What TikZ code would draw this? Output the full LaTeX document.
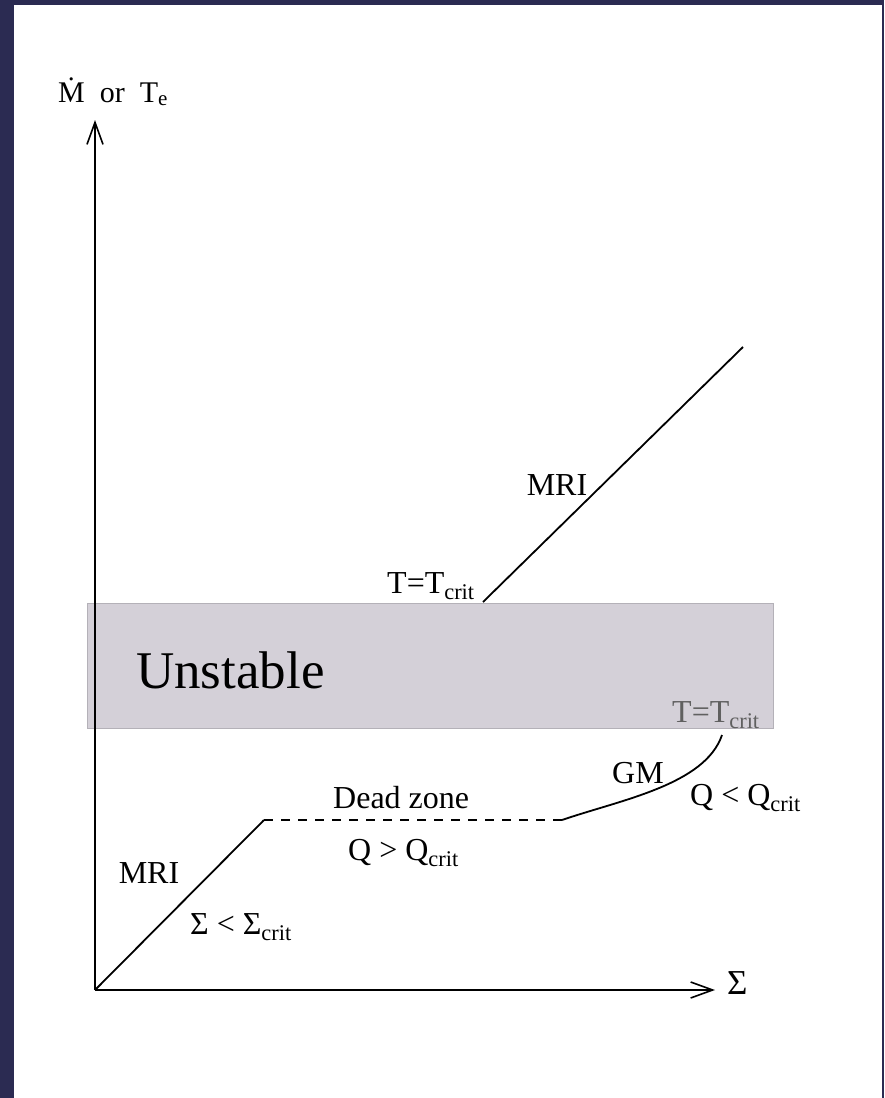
\documentclass[tikz,border=0pt]{standalone}
\usepackage{fontspec}
\setmainfont{Liberation Serif}
\usetikzlibrary{arrows.meta, positioning}
\definecolor{slidebg}{HTML}{2B2B52}
\definecolor{bandgrey}{HTML}{D4D0D8}
\definecolor{critgrey}{HTML}{606060}

\begin{document}
\begin{tikzpicture}[x=1pt, y=-1pt,
    track/.style={line width=1.8pt},
    axis/.style={line width=2pt, -{Straight Barb[length=22pt, width=16pt, line width=1.6pt]}},
    lbl/.style={font=\fontsize{32}{38}\selectfont, inner sep=0pt},
    band/.style={fill=bandgrey, draw=bandgrey!85!black, line width=0.6pt}
]
    % slide background
    \useasboundingbox (0,0) rectangle (884,1098);
    \fill[slidebg] (0,0) rectangle (884,1098);
    \fill[white] (14,5) rectangle (882,1098);

    % unstable band
    \node[band, minimum width=686pt, minimum height=125pt, inner sep=0pt, anchor=north west] (band) at (87,603) {};
    \node[font=\fontsize{53}{60}\selectfont, inner sep=0pt, anchor=base west] (unstable) at (136,688) {Unstable};
    \node[lbl, text=critgrey, anchor=base west] (tcritlo) at (672,722) {T=T\textsubscript{crit}};

    % axes
    \coordinate (O) at (95,990);
    \coordinate (ytop) at (95,120);
    \coordinate (xend) at (715,990);
    \draw[axis] (O) -- (ytop);
    \draw[axis] (O) -- (xend);
    \node[font=\fontsize{30}{36}\selectfont, inner sep=0pt, anchor=base west] (ylabel) at (58,102)
        {\.{M}\ \ or\ \ T\textsubscript{e}};
    \node[font=\fontsize{35}{40}\selectfont, inner sep=0pt, anchor=west] (xlabel) at (727,983) {Σ};

    % branches
    \coordinate (knee) at (264,820);
    \coordinate (dzend) at (562,820);
    \coordinate (gmtop) at (722,735);
    \coordinate (mrilo) at (483,602);
    \coordinate (mrihi) at (743,347);
    \draw[track] (O) -- (knee);
    \draw[track, dash pattern=on 9pt off 8pt] (knee) -- (dzend);
    \draw[track] (dzend) .. controls (620,800) and (705,785) .. (gmtop);
    \draw[track] (mrilo) -- (mrihi);

    % labels
    \node[lbl] (mrilower) at (149,873) {MRI};
    \node[lbl, anchor=west] (sigcrit) at (190,927) {Σ\ < Σ\textsubscript{crit}};
    \node[lbl, anchor=west] (dead) at (333,798) {Dead zone};
    \node[lbl, anchor=west] (qgt) at (348,853) {Q > Q\textsubscript{crit}};
    \node[lbl] (gm) at (638,773) {GM};
    \node[lbl, anchor=west] (qlt) at (690,798) {Q < Q\textsubscript{crit}};
    \node[lbl, anchor=base west] (tcrithi) at (387,593) {T=T\textsubscript{crit}};
    \node[lbl] (mriupper) at (557,485) {MRI};
\end{tikzpicture}
\end{document}
